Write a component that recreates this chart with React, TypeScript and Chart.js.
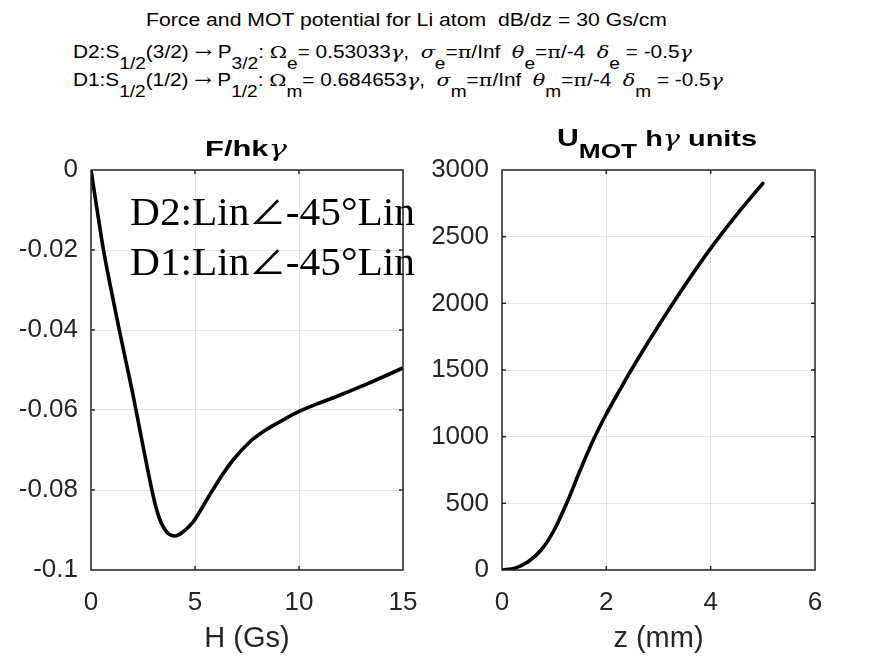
import React, { useEffect, useRef } from 'react';
import { Chart, registerables } from 'chart.js';

Chart.register(...registerables);

// Left panel: force vs magnetic field
const forceH = [0, 0.3, 0.6, 1.0, 1.4, 2.0, 2.5, 3.0, 3.16, 3.32, 3.48, 3.64, 3.84, 4.04, 4.44, 4.92, 5.56, 6.2, 6.83, 7.63, 8.43, 9.23, 10.03, 10.8, 11.62, 13.22, 15];
const forceF = [0, -0.0102, -0.02, -0.0308, -0.041, -0.0557, -0.069, -0.0817, -0.0850, -0.0875, -0.0893, -0.0905, -0.0913, -0.0915, -0.0904, -0.0879, -0.0825, -0.0771, -0.0725, -0.068, -0.0649, -0.0625, -0.0603, -0.0586, -0.057, -0.0536, -0.0495];

// Right panel: MOT potential vs position
const potZ = [0, 0.25, 0.5, 0.75, 1.0, 1.25, 1.5, 1.75, 2.0, 2.25, 2.5, 3.0, 3.5, 4.0, 4.5, 5.0];
const potU = [0, 14, 62, 150, 300, 510, 750, 975, 1170, 1345, 1515, 1832, 2132, 2412, 2665, 2900];

const forceXTicks = [0, 5, 10, 15];
const forceYTicks = [0, -0.02, -0.04, -0.06, -0.08, -0.1];
const potXTicks = [0, 2, 4, 6];
const potYTicks = [0, 500, 1000, 1500, 2000, 2500, 3000];

const SANS = '"Liberation Sans", Arial, Helvetica, sans-serif';
const SERIF = '"Liberation Serif", "Times New Roman", serif';
const GREEK = '"DejaVu Serif", "Liberation Serif", serif';
const AXIS = '#262626';
const GRID = '#e3e3e3';
const RIGHT_CANVAS_LEFT = 425;

type Part = { text: string; font: string; dy?: number };

function drawFitted(ctx: CanvasRenderingContext2D, parts: Part[], x0: number, x1: number, baseline: number, color: string) {
  let total = 0;
  const widths = parts.map((p) => { ctx.font = p.font; const w = ctx.measureText(p.text).width; total += w; return w; });
  const s = (x1 - x0) / total;
  ctx.save();
  ctx.translate(x0, baseline);
  ctx.scale(s, 1);
  ctx.fillStyle = color;
  ctx.textAlign = 'left';
  ctx.textBaseline = 'alphabetic';
  let x = 0;
  parts.forEach((p, i) => { ctx.font = p.font; ctx.fillText(p.text, x, p.dy || 0); x += widths[i]; });
  ctx.restore();
}

function boxPlugin() {
  return {
    id: 'matlabBox',
    afterDatasetsDraw(chart: any) {
      const { ctx, chartArea: a, scales } = chart;
      ctx.save();
      ctx.strokeStyle = AXIS;
      ctx.lineWidth = 1.5;
      const tl = 4;
      ctx.beginPath();
      ctx.rect(a.left, a.top, a.right - a.left, a.bottom - a.top);
      for (const t of scales.x.ticks) {
        const x = scales.x.getPixelForValue(t.value);
        ctx.moveTo(x, a.bottom); ctx.lineTo(x, a.bottom - tl);
        ctx.moveTo(x, a.top); ctx.lineTo(x, a.top + tl);
      }
      for (const t of scales.y.ticks) {
        const y = scales.y.getPixelForValue(t.value);
        ctx.moveTo(a.left, y); ctx.lineTo(a.left + tl, y);
        ctx.moveTo(a.right, y); ctx.lineTo(a.right - tl, y);
      }
      ctx.stroke();
      ctx.restore();
    },
  };
}

function makeChart(
  canvas: HTMLCanvasElement,
  xs: number[], ys: number[],
  xTicks: number[], yTicks: number[],
  xTitle: string,
  yWidth: number, xHeight: number,
  pad: { left: number; right: number; top: number; bottom: number },
  fmtY: (v: number) => string,
  extra: any,
) {
  const data = xs.map((x, i) => ({ x, y: ys[i] }));
  const xMin = Math.min(...xTicks), xMax = Math.max(...xTicks);
  const yMin = Math.min(...yTicks), yMax = Math.max(...yTicks);
  return new Chart(canvas, {
    type: 'line',
    data: {
      datasets: [{
        data,
        borderColor: '#000',
        borderWidth: 3.6,
        pointRadius: 0,
        cubicInterpolationMode: 'monotone',
        fill: false,
        borderCapStyle: 'round',
        borderJoinStyle: 'round',
      }],
    },
    options: {
      animation: false,
      responsive: false,
      maintainAspectRatio: false,
      layout: { padding: pad },
      plugins: { legend: { display: false }, tooltip: { enabled: false }, title: { display: false } },
      scales: {
        x: {
          type: 'linear', min: xMin, max: xMax,
          afterBuildTicks: (s: any) => { s.ticks = xTicks.map((v) => ({ value: v })); },
          afterFit: (s: any) => { s.height = xHeight; s.paddingLeft = 0; s.paddingRight = 0; },
          grid: { color: GRID, lineWidth: 1, drawTicks: false },
          border: { display: false },
          ticks: { color: AXIS, font: { family: SANS, size: 26 }, padding: 17, maxRotation: 0, autoSkip: false, callback: (v: any) => String(v) },
          title: { display: true, text: xTitle, color: AXIS, font: { family: SANS, size: 29 }, padding: { top: 0, bottom: 7 } },
        },
        y: {
          type: 'linear', min: yMin, max: yMax,
          afterBuildTicks: (s: any) => { s.ticks = yTicks.slice().sort((a, b) => a - b).map((v) => ({ value: v })); },
          afterFit: (s: any) => { s.width = yWidth; },
          grid: { color: GRID, lineWidth: 1, drawTicks: false },
          border: { display: false },
          ticks: { color: AXIS, font: { family: SANS, size: 26 }, padding: 13, autoSkip: false, callback: (v: any) => fmtY(Number(v)) },
        },
      },
    },
    plugins: [boxPlugin(), extra],
  } as any);
}

export default function App() {
  const leftRef = useRef<HTMLCanvasElement>(null);
  const rightRef = useRef<HTMLCanvasElement>(null);
  const h1 = useRef<HTMLDivElement>(null);
  const h2 = useRef<HTMLDivElement>(null);
  const h3 = useRef<HTMLDivElement>(null);

  useEffect(() => {
    document.body.style.margin = '0';
    const fits: [HTMLDivElement | null, number][] = [[h1.current, 521], [h2.current, 619], [h3.current, 650]];
    for (const [el, target] of fits) {
      if (!el) continue;
      el.style.transform = 'none';
      const w = el.getBoundingClientRect().width;
      el.style.transform = `scaleX(${target / w})`;
    }

    const leftExtra = {
      id: 'leftText',
      afterDraw(chart: any) {
        const { ctx } = chart;
        drawFitted(ctx, [
          { text: 'F/hk', font: `bold 22px ${SANS}` },
          { text: '\u03B3', font: `italic 22px ${GREEK}` },
        ], 205, 287, 156, '#000');
        const ann = (label: string, y: number) => drawFitted(ctx, [
          { text: label + ':Lin', font: `41px ${SERIF}` },
          { text: '\u2220', font: `36px "Noto Sans CJK SC", "DejaVu Sans", sans-serif` },
          { text: '-45\u00B0Lin', font: `41px ${SERIF}` },
        ], 130, 415, y, '#000');
        ann('D2', 225);
        ann('D1', 275);
      },
    };
    const rightExtra = {
      id: 'rightText',
      afterDraw(chart: any) {
        const { ctx } = chart;
        drawFitted(ctx, [
          { text: 'U', font: `bold 23px ${SANS}` },
          { text: 'MOT', font: `bold 20px ${SANS}`, dy: 12 },
          { text: ' h', font: `bold 22px ${SANS}` },
          { text: '\u03B3', font: `italic 22px ${GREEK}` },
          { text: ' units', font: `bold 22px ${SANS}` },
        ], 557 - RIGHT_CANVAS_LEFT, 757 - RIGHT_CANVAS_LEFT, 146, '#000');
      },
    };
    const fmtF = (v: number) => { const s = String(Number(v.toFixed(2))); return s === '-0' ? '0' : s; };
    const fmtU = (v: number) => String(Math.round(v));
    const c1 = makeChart(leftRef.current!, forceH, forceF, forceXTicks, forceYTicks, 'H (Gs)', 91, 93,
      { left: 0, right: 22, top: 170, bottom: 0 }, fmtF, leftExtra);
    const c2 = makeChart(rightRef.current!, potZ, potU, potXTicks, potYTicks, 'z (mm)', 77, 93,
      { left: 0, right: 56, top: 170, bottom: 0 }, fmtU, rightExtra);
    return () => { c1.destroy(); c2.destroy(); };
  }, []);

  const hdr: React.CSSProperties = { position: 'absolute', whiteSpace: 'nowrap', fontFamily: SANS, fontSize: 17.5, color: '#000', lineHeight: 1, transformOrigin: 'left center' };
  const sub: React.CSSProperties = { position: 'relative', top: '0.7em', fontSize: '0.92em' };
  const gk: React.CSSProperties = { fontFamily: GREEK, fontStyle: 'italic' };
  const up: React.CSSProperties = { fontFamily: GREEK };

  return (
    <div style={{ position: 'relative', width: 871, height: 663, background: '#fff', overflow: 'hidden' }}>
      <div ref={h1} style={{ ...hdr, left: 146, top: 12 }}>Force and MOT potential for Li atom&nbsp; dB/dz = 30 Gs/cm</div>
      <div ref={h2} style={{ ...hdr, left: 73, top: 44 }}>
        D2:S<span style={sub}>1/2</span>(3/2) <span style={up}>&rarr;</span> P<span style={sub}>3/2</span>: <span style={up}>&Omega;</span><span style={sub}>e</span>= 0.53033<span style={gk}>&gamma;</span>,&nbsp; <span style={gk}>&sigma;</span><span style={sub}>e</span>=<span style={up}>&pi;</span>/Inf&nbsp; <span style={gk}>&theta;</span><span style={sub}>e</span>=<span style={up}>&pi;</span>/-4&nbsp; <span style={gk}>&delta;</span><span style={sub}>e</span> = -0.5<span style={gk}>&gamma;</span>
      </div>
      <div ref={h3} style={{ ...hdr, left: 73, top: 72 }}>
        D1:S<span style={sub}>1/2</span>(1/2) <span style={up}>&rarr;</span> P<span style={sub}>1/2</span>: <span style={up}>&Omega;</span><span style={sub}>m</span>= 0.684653<span style={gk}>&gamma;</span>,&nbsp; <span style={gk}>&sigma;</span><span style={sub}>m</span>=<span style={up}>&pi;</span>/Inf&nbsp; <span style={gk}>&theta;</span><span style={sub}>m</span>=<span style={up}>&pi;</span>/-4&nbsp; <span style={gk}>&delta;</span><span style={sub}>m</span> = -0.5<span style={gk}>&gamma;</span>
      </div>
      <canvas ref={leftRef} width={425} height={663} style={{ position: 'absolute', left: 0, top: 0 }} />
      <canvas ref={rightRef} width={446} height={663} style={{ position: 'absolute', left: RIGHT_CANVAS_LEFT, top: 0 }} />
    </div>
  );
}
